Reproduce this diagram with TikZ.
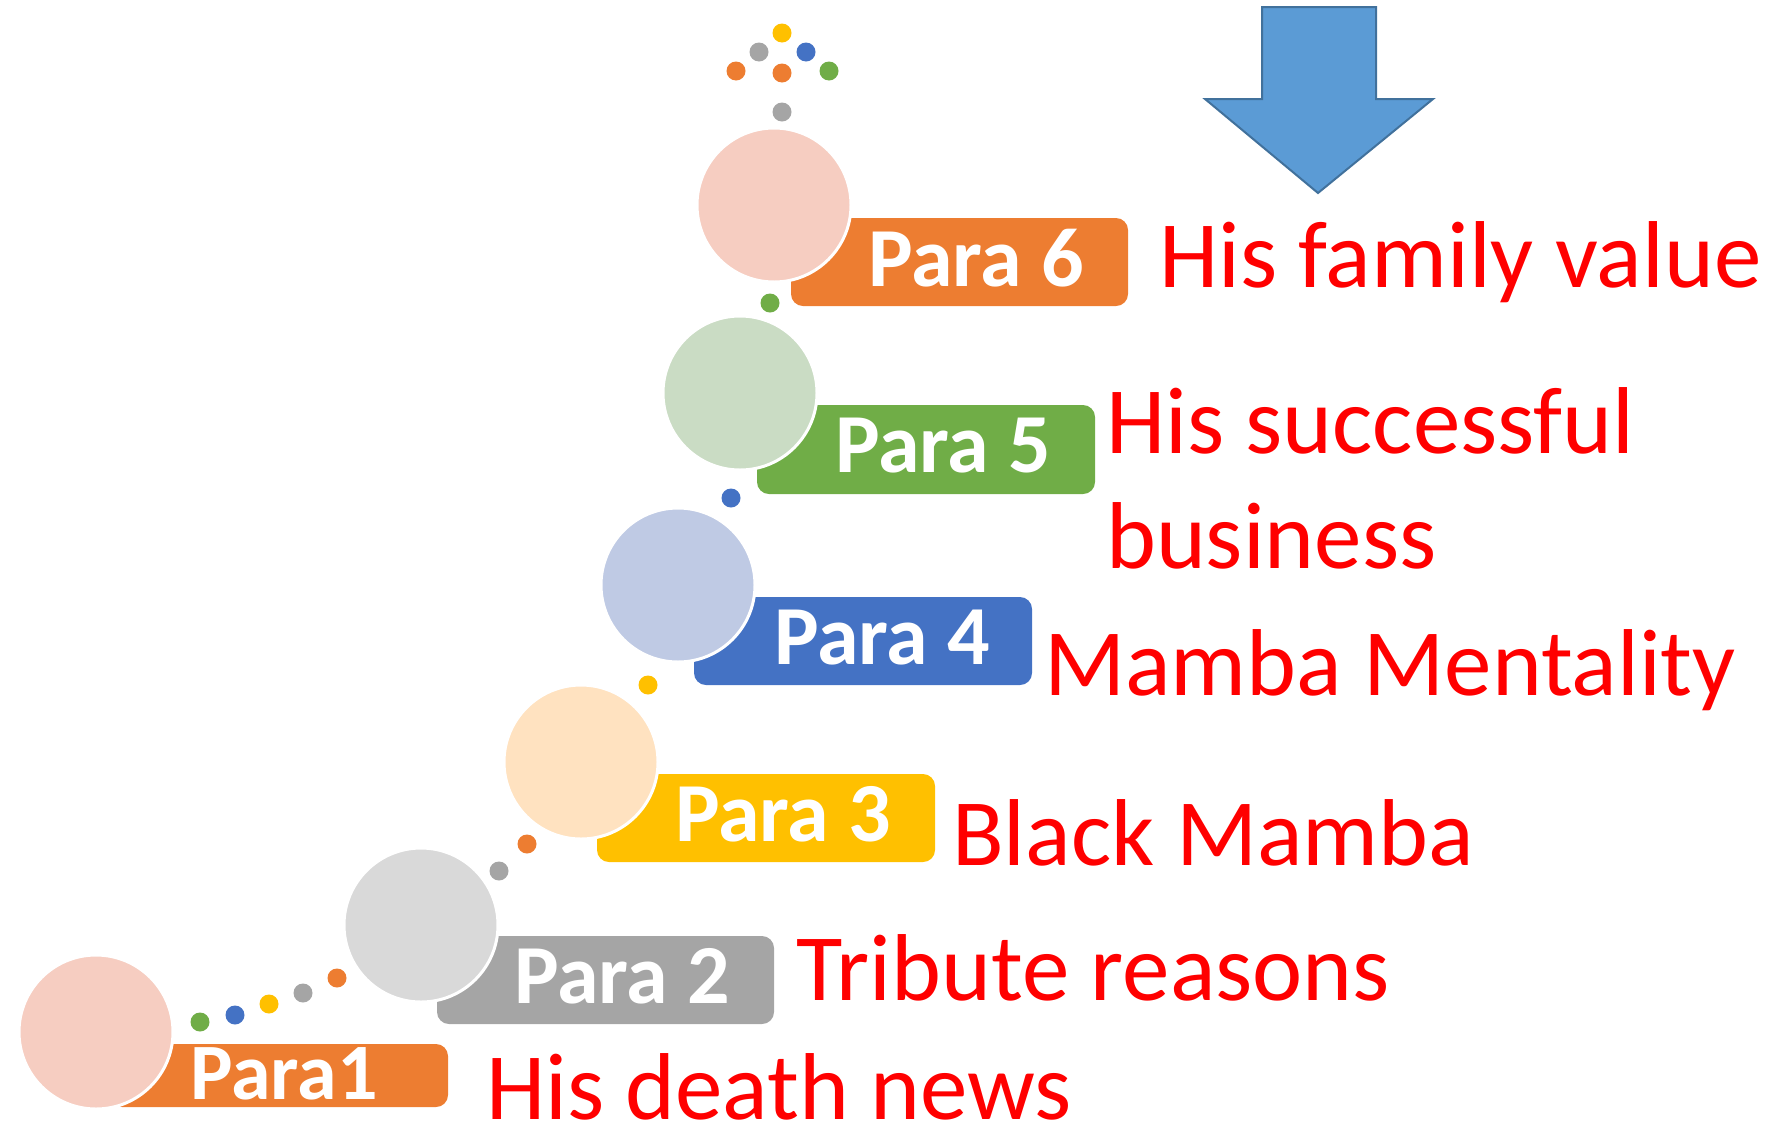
\documentclass[tikz,border=0pt]{standalone}
\usepackage{fontspec}
\setmainfont{Carlito}
\usetikzlibrary{positioning}

\definecolor{tagorange}{HTML}{ED7D31}
\definecolor{taggray}{HTML}{A5A5A5}
\definecolor{tagyellow}{HTML}{FFC000}
\definecolor{tagblue}{HTML}{4472C4}
\definecolor{taggreen}{HTML}{70AD47}
\definecolor{pinkbub}{HTML}{F6CDC1}
\definecolor{graybub}{HTML}{D9D9D9}
\definecolor{peachbub}{HTML}{FFE2C0}
\definecolor{bluebub}{HTML}{BFCAE4}
\definecolor{greenbub}{HTML}{CADCC4}
\definecolor{arrowblue}{HTML}{5B9BD5}
\definecolor{arrowedge}{HTML}{41719C}

\tikzset{
  bubble/.style={circle, draw=white, line width=3pt, minimum size=154pt, inner sep=0pt},
  tag/.style={rounded corners=12pt},
  paralabel/.style={text=white, font=\bfseries\fontsize{84}{84}\selectfont, inner sep=0pt, anchor=base},
  note/.style={text=red, font=\fontsize{95}{112}\selectfont, inner sep=0pt, anchor=base west},
}

\begin{document}
\begin{tikzpicture}[x=1pt,y=-1pt]
	\useasboundingbox (0,0) rectangle (1788,1125);

	% Tags behind the bubbles
	\fill[tagorange, tag] (110,1044) rectangle (448,1107);
	\fill[taggray, tag] (437,936) rectangle (774,1024);
	\fill[tagyellow, tag] (597,774) rectangle (935,862);
	\fill[tagblue, tag] (694,597) rectangle (1032,685);
	\fill[taggreen, tag] (757,405) rectangle (1095,494);
	\fill[tagorange, tag] (791,218) rectangle (1128,306);

	% Bubbles
	\node[bubble, fill=pinkbub] (bub1) at (96,1032) {};
	\node[bubble, fill=graybub] (bub2) at (421,925) {};
	\node[bubble, fill=peachbub] (bub3) at (581,762) {};
	\node[bubble, fill=bluebub] (bub4) at (678,585) {};
	\node[bubble, fill=greenbub] (bub5) at (740,393) {};
	\node[bubble, fill=pinkbub] (bub6) at (774,205) {};

	% Dots between the steps and on top
	\foreach \px/\py/\col in {200/1022/taggreen, 235/1015/tagblue, 269/1004/tagyellow,
		303/993/taggray, 337/978/tagorange, 499/871/taggray, 527/844/tagorange,
		648/685/tagyellow, 731/498/tagblue, 770/303/taggreen,
		782/112/taggray, 736/71/tagorange, 782/73/tagorange, 829/71/taggreen,
		759/52/taggray, 806/52/tagblue, 782/33/tagyellow}
		\fill[\col] (\px,\py) circle (9.5);

	% Step labels
	\node[paralabel, font=\bfseries\fontsize{80}{80}\selectfont] (para1) at (284,1099) {Para1};
	\node[paralabel] (para2) at (622,1003) {Para 2};
	\node[paralabel] (para3) at (783,841) {Para 3};
	\node[paralabel] (para4) at (882,664) {Para 4};
	\node[paralabel] (para5) at (943,472) {Para 5};
	\node[paralabel] (para6) at (976,286) {Para 6};

	% Notes
	\node[note] (note1) at (486,1119) {His death news};
	\node[note] (note2) at (796,1000) {Tribute reasons};
	\node[note] (note3) at (952,865) {Black Mamba};
	\node[note] (note4) at (1044,695) {Mamba Mentality};
	\node[note] (note5) at (1106,453) {His successful};
	\node[note] (note5b) at (1106,568) {business};
	\node[note] (note6) at (1159,287) {His family value};

	% Big arrow
	\filldraw[fill=arrowblue, draw=arrowedge, line width=2pt]
	(1262,7) -- (1376,7) -- (1376,99) -- (1433,99) -- (1318,193) -- (1205,99) -- (1262,99) -- cycle;
\end{tikzpicture}
\end{document}
